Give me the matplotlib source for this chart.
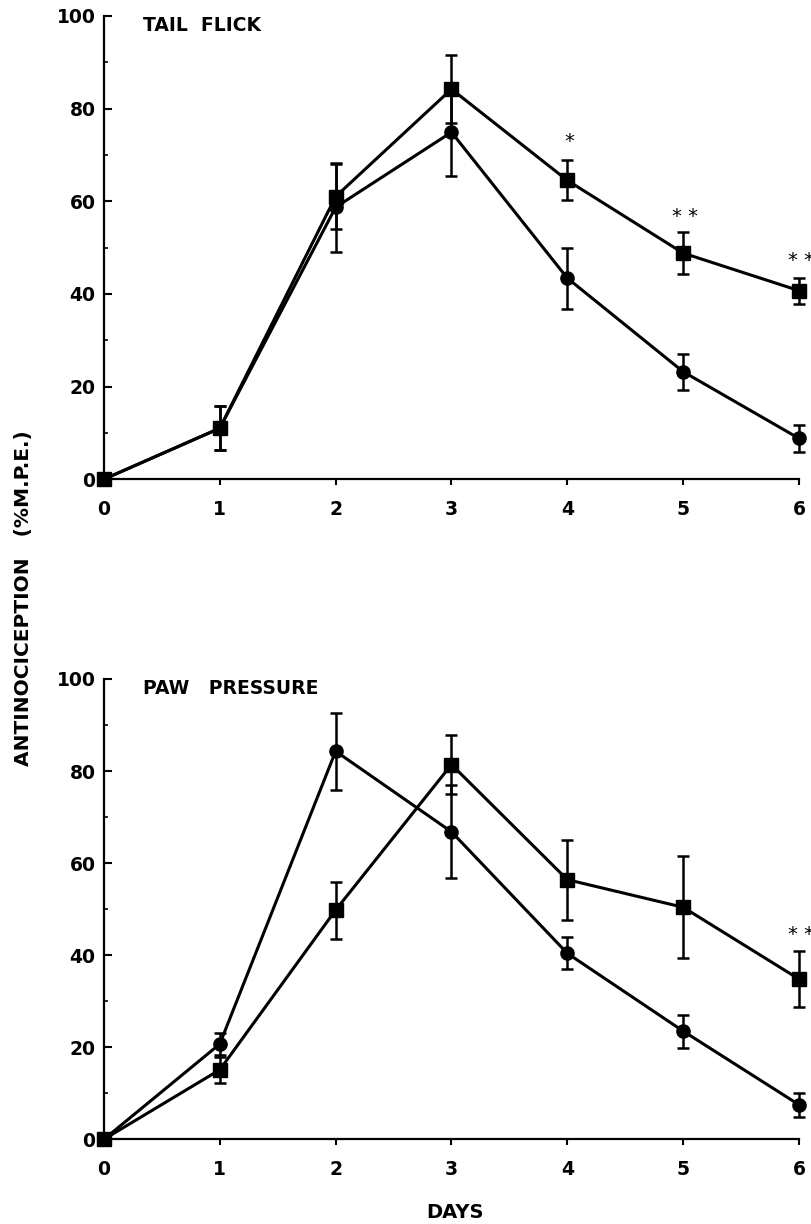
import matplotlib
matplotlib.use("Agg")
import matplotlib.pyplot as plt
from matplotlib.ticker import MultipleLocator

days = [0, 1, 2, 3, 4, 5, 6]

# Tail flick
tf_circle = [0, 11.0, 58.7, 74.9, 43.4, 23.2, 8.8]
tf_circle_err = [0, 4.8, 9.6, 9.4, 6.6, 3.9, 3.0]
tf_square = [0, 11.0, 61.0, 84.2, 64.5, 48.8, 40.7]
tf_square_err = [0, 4.8, 7.1, 7.4, 4.3, 4.6, 2.8]
tf_stars_days = [4, 5, 6]
tf_stars_text = ["*", "* *", "* *"]
tf_stars_y = [72.9, 56.7, 47.2]

# Paw pressure
pp_circle = [0, 20.7, 84.3, 66.8, 40.4, 23.5, 7.5]
pp_circle_err = [0, 2.3, 8.4, 10.1, 3.5, 3.6, 2.6]
pp_square = [0, 15.1, 49.8, 81.4, 56.4, 50.4, 34.8]
pp_square_err = [0, 2.8, 6.2, 6.5, 8.7, 11.1, 6.0]
pp_stars_days = [6]
pp_stars_text = ["* *"]
pp_stars_y = [44.4]

yticks = [0, 20, 40, 60, 80, 100]

FONT = "DejaVu Sans"

fig = plt.figure(figsize=(8.12, 12.24), dpi=100)
ax1 = fig.add_axes([0.128, 0.6085, 0.856, 0.3785])
ax2 = fig.add_axes([0.128, 0.0692, 0.856, 0.3761])


def style(ax, title, circ, circ_err, sq, sq_err, sd, st, sy):
    ax.errorbar(days, circ, yerr=circ_err, color="black", lw=2.2, marker="o",
                ms=9.5, elinewidth=1.8, capsize=4, capthick=1.8, clip_on=False, zorder=3)
    ax.errorbar(days, sq, yerr=sq_err, color="black", lw=2.2, marker="s",
                ms=9.5, elinewidth=1.8, capsize=4, capthick=1.8, clip_on=False, zorder=3)
    ax.set_xlim(0, 6)
    ax.set_ylim(0, 100)
    for s in ["top", "right"]:
        ax.spines[s].set_visible(False)
    for s in ["left", "bottom"]:
        ax.spines[s].set_linewidth(1.6)
    ax.set_xticks(days)
    ax.set_yticks(yticks)
    ax.yaxis.set_minor_locator(MultipleLocator(10))
    ax.tick_params(axis="y", which="major", direction="in", length=6, width=1.5, pad=6)
    ax.tick_params(axis="y", which="minor", direction="in", length=3, width=1.2)
    ax.tick_params(axis="x", which="major", direction="out", length=4, width=1.5, pad=11)
    for lab in ax.get_xticklabels() + ax.get_yticklabels():
        lab.set_fontfamily(FONT)
        lab.set_fontweight("bold")
        lab.set_fontsize(13.5)
    ax.text(0.34, 97.9, title, fontsize=13.5, fontweight="bold", family=FONT,
            ha="left", va="center")
    for d, t, y in zip(sd, st, sy):
        ax.text(d + 0.02, y, t, fontsize=14, family=FONT, ha="center", va="center",
                clip_on=False)


style(ax1, "TAIL  FLICK", tf_circle, tf_circle_err, tf_square, tf_square_err,
      tf_stars_days, tf_stars_text, tf_stars_y)
style(ax2, "PAW   PRESSURE", pp_circle, pp_circle_err, pp_square, pp_square_err,
      pp_stars_days, pp_stars_text, pp_stars_y)

fig.text(0.029, 1 - 598 / 1224, "ANTINOCICEPTION   (%M.P.E.)", rotation=90,
         fontsize=14.5, fontweight="bold", family=FONT, ha="center", va="center")
fig.text(455 / 812, 1 - 1213 / 1224, "DAYS", fontsize=14, fontweight="bold",
         family=FONT, ha="center", va="center")

fig.savefig("out.png", dpi=100)
